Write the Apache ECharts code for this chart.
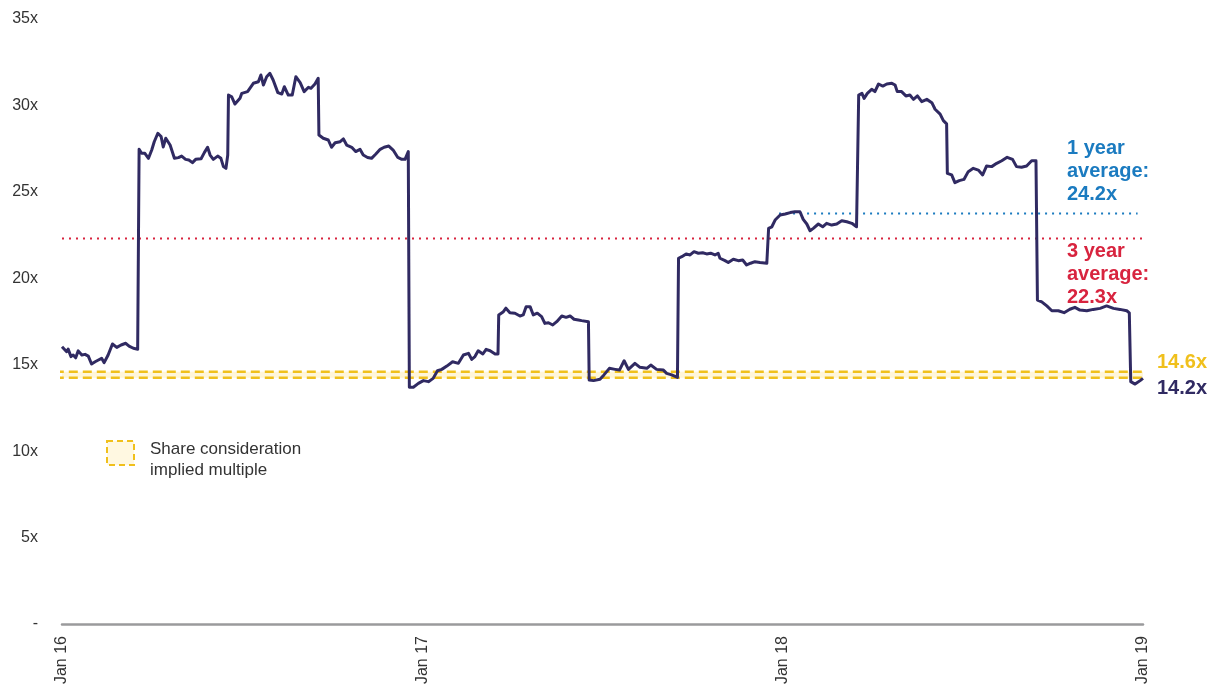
<!DOCTYPE html>
<html>
<head>
<meta charset="utf-8">
<script src="https://cdn.jsdelivr.net/npm/echarts@6/dist/echarts.min.js"></script>
<style>
html,body{margin:0;padding:0;background:#fff;}
#chart{width:1211px;height:684px;}
</style>
</head>
<body>
<div id="chart"></div>
<script>
// Decimal years (time of each observation)
const yearFrac = [
2016.000,2016.004,2016.013,2016.017,2016.025,2016.031,2016.038,2016.045,2016.055,2016.064,
2016.073,2016.082,2016.092,2016.101,2016.110,2016.117,2016.128,2016.140,2016.152,2016.164,
2016.177,2016.186,2016.198,2016.210,2016.213,2016.214,2016.221,2016.230,2016.240,2016.249,
2016.256,2016.266,2016.275,2016.281,2016.288,2016.300,2016.312,2016.323,2016.332,2016.343,
2016.352,2016.362,2016.371,2016.386,2016.395,2016.404,2016.411,2016.420,2016.432,2016.441,
2016.448,2016.455,2016.460,2016.462,2016.471,2016.480,2016.494,2016.499,2016.515,2016.531,
2016.545,2016.552,2016.559,2016.568,2016.577,2016.586,2016.599,2016.610,2016.617,2016.628,
2016.639,2016.649,2016.661,2016.672,2016.684,2016.691,2016.702,2016.711,2016.713,2016.725,
2016.739,2016.748,2016.758,2016.772,2016.781,2016.790,2016.804,2016.815,2016.827,2016.836,
2016.848,2016.859,2016.871,2016.883,2016.894,2016.907,2016.919,2016.932,2016.943,2016.952,
2016.961,2016.964,2016.975,2016.989,2017.003,2017.017,2017.030,2017.042,2017.054,2017.068,
2017.084,2017.100,2017.114,2017.128,2017.137,2017.146,2017.155,2017.168,2017.177,2017.188,
2017.202,2017.210,2017.212,2017.225,2017.232,2017.243,2017.257,2017.271,2017.280,2017.288,
2017.299,2017.308,2017.319,2017.331,2017.340,2017.350,2017.362,2017.373,2017.387,2017.399,
2017.410,2017.421,2017.433,2017.442,2017.461,2017.463,2017.475,2017.493,2017.504,2017.519,
2017.535,2017.547,2017.560,2017.572,2017.590,2017.604,2017.623,2017.634,2017.650,2017.669,
2017.678,2017.692,2017.708,2017.710,2017.711,2017.720,2017.732,2017.743,2017.754,2017.766,
2017.778,2017.789,2017.800,2017.812,2017.821,2017.826,2017.840,2017.849,2017.863,2017.877,
2017.889,2017.900,2017.911,2017.923,2017.937,2017.956,2017.960,2017.961,2017.970,2017.979,
2017.993,2018.007,2018.021,2018.034,2018.048,2018.057,2018.067,2018.076,2018.085,2018.099,
2018.111,2018.122,2018.136,2018.150,2018.164,2018.178,2018.192,2018.205,2018.210,2018.211,
2018.220,2018.226,2018.235,2018.247,2018.256,2018.266,2018.278,2018.289,2018.303,2018.312,
2018.318,2018.330,2018.342,2018.353,2018.363,2018.374,2018.386,2018.400,2018.414,2018.423,
2018.437,2018.446,2018.455,2018.457,2018.469,2018.478,2018.490,2018.503,2018.515,2018.529,
2018.543,2018.555,2018.566,2018.580,2018.594,2018.608,2018.623,2018.638,2018.649,2018.663,
2018.677,2018.691,2018.703,2018.707,2018.719,2018.733,2018.747,2018.765,2018.781,2018.797,
2018.811,2018.825,2018.844,2018.862,2018.881,2018.899,2018.918,2018.936,2018.955,2018.962,
2018.966,2018.978,2018.992,2019.000
];
// Price / earnings multiple (x)
const multiple = [
16.04,15.95,15.75,15.90,15.47,15.56,15.40,15.80,15.56,15.60,
15.50,15.04,15.17,15.27,15.37,15.12,15.56,16.20,16.00,16.14,
16.24,16.08,15.95,15.90,15.90,27.46,27.23,27.23,26.94,27.42,
27.90,28.39,28.20,27.60,28.10,27.71,26.94,26.98,27.07,26.88,
26.84,26.69,26.88,26.92,27.27,27.58,27.13,26.88,27.07,26.94,
26.46,26.36,27.13,30.60,30.50,30.08,30.41,30.70,30.80,31.28,
31.37,31.76,31.18,31.66,31.86,31.47,30.74,30.66,31.08,30.60,
30.60,31.66,31.32,30.80,31.05,30.99,31.24,31.57,28.29,28.10,
28.00,27.58,27.84,27.90,28.06,27.71,27.58,27.33,27.46,27.13,
26.99,26.94,27.19,27.46,27.58,27.65,27.42,26.99,26.88,26.88,
27.33,13.70,13.70,13.92,14.08,14.02,14.21,14.65,14.73,14.92,
15.17,15.08,15.56,15.66,15.31,15.47,15.81,15.62,15.89,15.81,
15.62,15.62,17.88,18.07,18.27,18.01,17.98,17.82,17.88,18.36,
18.36,17.88,17.98,17.78,17.39,17.43,17.30,17.49,17.82,17.74,
17.82,17.63,17.59,17.55,17.49,14.12,14.08,14.16,14.41,14.79,
14.73,14.69,15.23,14.73,15.08,14.85,14.79,14.98,14.73,14.69,
14.50,14.41,14.27,14.27,21.16,21.25,21.41,21.35,21.54,21.45,
21.48,21.41,21.45,21.35,21.45,21.16,21.02,20.91,21.10,21.02,
21.06,20.77,20.87,20.96,20.91,20.87,20.87,22.89,22.98,23.37,
23.66,23.72,23.80,23.85,23.85,23.41,23.14,22.75,22.89,23.14,
22.98,23.18,23.08,23.14,23.33,23.27,23.18,22.98,22.98,30.60,
30.70,30.41,30.70,30.93,30.80,31.24,31.12,31.24,31.28,31.18,
30.80,30.80,30.55,30.60,30.35,30.55,30.22,30.35,30.16,29.78,
29.50,29.12,28.93,26.07,25.98,25.53,25.65,25.72,26.17,26.36,
26.26,25.98,26.50,26.46,26.65,26.80,27.00,26.88,26.46,26.42,
26.50,26.80,26.80,18.74,18.64,18.40,18.12,18.12,18.01,18.21,
18.32,18.16,18.12,18.20,18.26,18.40,18.26,18.20,18.12,18.00,
14.02,13.88,14.08,14.21
];
// Axis ticks
const xTickYears = [2016, 2017, 2018, 2019];
const yTicks = [0, 5, 10, 15, 20, 25, 30, 35];
// Reference levels
const threeYearAvg = 22.3;       // drawn level
const oneYearAvgLevel = 23.75;   // drawn level of 1 year average line
const oneYearAvgLabel = '24.2x';
const threeYearAvgLabel = '22.3x';
const shareUpper = 14.6;
const shareLower = 14.25;
const shareUpperLabel = '14.6x';
const lastLabel = '14.2x';

const NAVY = '#302a62';
const GOLD = '#f0c01c';
const RED = '#d8243f';
const BLUE = '#1b7bc0';
const FONT = '"Liberation Sans", Arial, sans-serif';

const lineData = yearFrac.map((t, i) => [t, multiple[i]]);

const chart = echarts.init(document.getElementById('chart'), null, {renderer: 'canvas'});
chart.setOption({
  animation: false,
  backgroundColor: '#fff',
  grid: {left: 62, right: 68, top: 19, bottom: 60, containLabel: false, outerBoundsMode: 'none'},
  xAxis: {
    type: 'value',
    min: 2016, max: 2019, interval: 1,
    axisLine: {show: true, lineStyle: {color: '#9a9a9c', width: 2.5}},
    axisTick: {show: false},
    splitLine: {show: false},
    axisLabel: {
      rotate: 90, margin: 12, color: '#333', fontFamily: FONT, fontSize: 16,
      formatter: v => xTickYears.includes(v) ? 'Jan ' + String(v).slice(2) : ''
    }
  },
  yAxis: {
    type: 'value', min: 0, max: 35, interval: 5,
    axisLine: {show: false}, axisTick: {show: false}, splitLine: {show: false},
    axisLabel: {
      margin: 24, color: '#333', fontFamily: FONT, fontSize: 16,
      formatter: v => yTicks.includes(v) ? (v === 0 ? '-' : v + 'x') : ''
    }
  },
  series: [
    {
      name: 'band', type: 'line', data: [], silent: true,
      markArea: {
        silent: true,
        itemStyle: {color: 'rgba(255,236,170,0.45)'},
        data: [[{coord: [2016, shareLower]}, {coord: [2019, shareUpper]}]]
      }
    },
    {
      name: 'share upper', type: 'line', clip: false, silent: true,
      data: [[2015.98, shareUpper], [2019.014, shareUpper]],
      showSymbol: false,
      lineStyle: {color: GOLD, width: 2.5, type: [9, 5]}
    },
    {
      name: 'share lower', type: 'line', clip: false, silent: true,
      data: [[2015.98, shareLower], [2019.014, shareLower]],
      showSymbol: false,
      lineStyle: {color: GOLD, width: 2.5, type: [9, 5]}
    },
    {
      name: '3y avg', type: 'line', silent: true,
      data: [[2016, threeYearAvg], [2019, threeYearAvg]],
      showSymbol: false,
      lineStyle: {color: RED, width: 2, type: [2, 5]}
    },
    {
      name: '1y avg', type: 'line', silent: true,
      data: [[2017.99, oneYearAvgLevel], [2018.985, oneYearAvgLevel]],
      showSymbol: false,
      lineStyle: {color: BLUE, width: 2, type: [2, 5]}
    },
    {
      name: 'multiple', type: 'line', data: lineData,
      showSymbol: false, smooth: false,
      lineStyle: {color: NAVY, width: 3, join: 'round'},
      z: 5
    }
  ],
  graphic: [
    {type: 'text', left: 1067, top: 137, style: {
      text: '1 year\naverage:\n' + oneYearAvgLabel, fill: BLUE, fontFamily: FONT,
      fontWeight: 'bold', fontSize: 20, lineHeight: 23}},
    {type: 'text', left: 1067, top: 240, style: {
      text: '3 year\naverage:\n' + threeYearAvgLabel, fill: RED, fontFamily: FONT,
      fontWeight: 'bold', fontSize: 20, lineHeight: 23}},
    {type: 'text', left: 1157, top: 352, style: {
      text: shareUpperLabel, fill: GOLD, fontFamily: FONT, fontWeight: 'bold', fontSize: 20}},
    {type: 'text', left: 1157, top: 378, style: {
      text: lastLabel, fill: NAVY, fontFamily: FONT, fontWeight: 'bold', fontSize: 20}},
    {type: 'rect', shape: {x: 107, y: 441, width: 27, height: 24},
      style: {fill: 'rgba(255,244,205,0.6)', stroke: GOLD, lineWidth: 2, lineDash: [6, 4]}},
    {type: 'text', left: 150, top: 439, style: {
      text: 'Share consideration\nimplied multiple', fill: '#333', fontFamily: FONT,
      fontSize: 17, lineHeight: 21}}
  ]
});
</script>
</body>
</html>
